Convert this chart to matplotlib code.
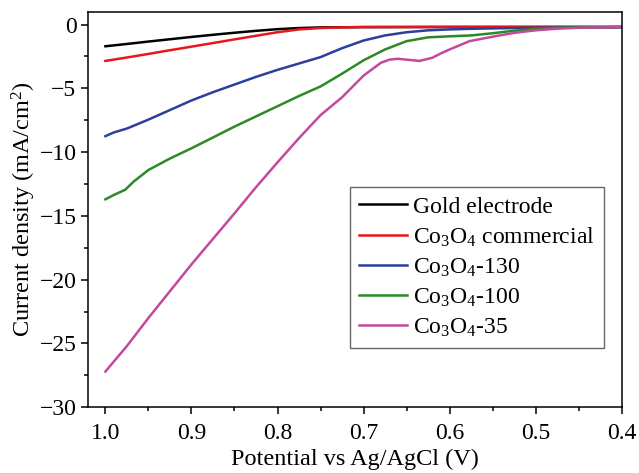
import numpy as np
import matplotlib
matplotlib.use("Agg")
import matplotlib.pyplot as plt
from matplotlib.ticker import MultipleLocator

plt.rcParams["font.family"] = ["Liberation Serif", "DejaVu Serif"]
plt.rcParams["mathtext.fontset"] = "custom"
plt.rcParams["mathtext.rm"] = "Liberation Serif"
plt.rcParams["mathtext.it"] = "Liberation Serif:italic"

# ── data (potential in V, current density in mA/cm2) ──
e_gold = [1.0, 0.975, 0.95, 0.925, 0.9, 0.875, 0.85, 0.825, 0.8, 0.775, 0.75, 0.7, 0.6, 0.5, 0.4]
j_gold = [-1.70, -1.52, -1.33, -1.15, -0.97, -0.80, -0.64, -0.49, -0.36, -0.27, -0.22, -0.20, -0.19, -0.19, -0.19]

e_comm = [1.0, 0.975, 0.95, 0.925, 0.9, 0.875, 0.85, 0.825, 0.8, 0.775, 0.75, 0.725, 0.7, 0.6, 0.5, 0.4]
j_comm = [-2.85, -2.58, -2.30, -2.01, -1.73, -1.45, -1.16, -0.88, -0.60, -0.38, -0.27, -0.22, -0.19, -0.18, -0.18, -0.18]

e_130 = [1.0, 0.99, 0.975, 0.95, 0.925, 0.9, 0.875, 0.85, 0.825, 0.8, 0.775, 0.75,
         0.725, 0.7, 0.675, 0.65, 0.625, 0.6, 0.575, 0.55, 0.5, 0.45, 0.4]
j_130 = [-8.75, -8.45, -8.15, -7.45, -6.70, -5.95, -5.30, -4.70, -4.10, -3.55, -3.05, -2.55,
         -1.85, -1.25, -0.85, -0.60, -0.45, -0.38, -0.33, -0.30, -0.25, -0.22, -0.20]

e_100 = [1.0, 0.99, 0.977, 0.967, 0.95, 0.925, 0.9, 0.875, 0.85, 0.825, 0.8, 0.775, 0.75,
         0.725, 0.7, 0.675, 0.65, 0.625, 0.6, 0.575, 0.55, 0.525, 0.5, 0.475, 0.45, 0.4]
j_100 = [-13.70, -13.35, -12.95, -12.30, -11.40, -10.50, -9.70, -8.85, -8.00, -7.20, -6.40, -5.60, -4.85,
         -3.85, -2.80, -1.95, -1.30, -1.00, -0.92, -0.85, -0.68, -0.48, -0.32, -0.26, -0.23, -0.20]

e_35 = [1.0, 0.975, 0.95, 0.925, 0.9, 0.875, 0.85, 0.825, 0.8, 0.775, 0.75, 0.725, 0.7,
        0.68, 0.67, 0.66, 0.65, 0.635, 0.62, 0.61, 0.6, 0.577, 0.55, 0.525, 0.5, 0.475, 0.45, 0.425, 0.4]
j_35 = [-27.20, -25.20, -23.00, -20.90, -18.80, -16.80, -14.80, -12.75, -10.80, -8.90, -7.10, -5.70, -4.00,
        -3.00, -2.75, -2.68, -2.75, -2.85, -2.60, -2.25, -1.95, -1.30, -0.95, -0.65, -0.45, -0.32, -0.25, -0.22, -0.20]

SERIES = [
    (e_gold, j_gold, "Gold electrode",                "#000000"),
    (e_comm, j_comm, r"Co$_3$O$_4$ commercial",       "#e8161c"),
    (e_130,  j_130,  r"Co$_3$O$_4$-130",              "#2c3f9c"),
    (e_100,  j_100,  r"Co$_3$O$_4$-100",              "#2b8a24"),
    (e_35,   j_35,   r"Co$_3$O$_4$-35",               "#c4489c"),
]

fig = plt.figure(figsize=(6.39, 4.73), dpi=100)
ax = fig.add_axes([0.138, 0.139, 0.835, 0.836])

for e, j, label, color in SERIES:
    ax.plot(e, j, color=color, linewidth=1.8, label=label)

ax.set_xlim(1.02, 0.4)
ax.set_ylim(-30, 1)
ax.xaxis.set_major_locator(MultipleLocator(0.1))
ax.xaxis.set_minor_locator(MultipleLocator(0.05))
ax.yaxis.set_major_locator(MultipleLocator(5))
ax.yaxis.set_minor_locator(MultipleLocator(2.5))
ax.tick_params(which="both", direction="out", top=False, right=False, labelsize=17, width=1.1)
ax.tick_params(which="major", length=5)
ax.tick_params(which="minor", length=3)
ax.tick_params(axis="x", pad=6)
for s in ax.spines.values():
    s.set_linewidth(1.1)

ax.set_xlabel("Potential vs Ag/AgCl (V)", fontsize=17.5, labelpad=4)
ax.set_ylabel("Current density (mA/cm$^2$)", fontsize=17.5, labelpad=1)

leg = ax.legend(loc="lower right", bbox_to_anchor=(0.966, 0.149), borderaxespad=0,
                fontsize=17, fancybox=False, edgecolor="#666666", framealpha=1,
                handlelength=2.0, handletextpad=0.25, labelspacing=0.33, borderpad=0.4)
leg.get_frame().set_linewidth(1.0)

fig.savefig("out.png", dpi=100)
